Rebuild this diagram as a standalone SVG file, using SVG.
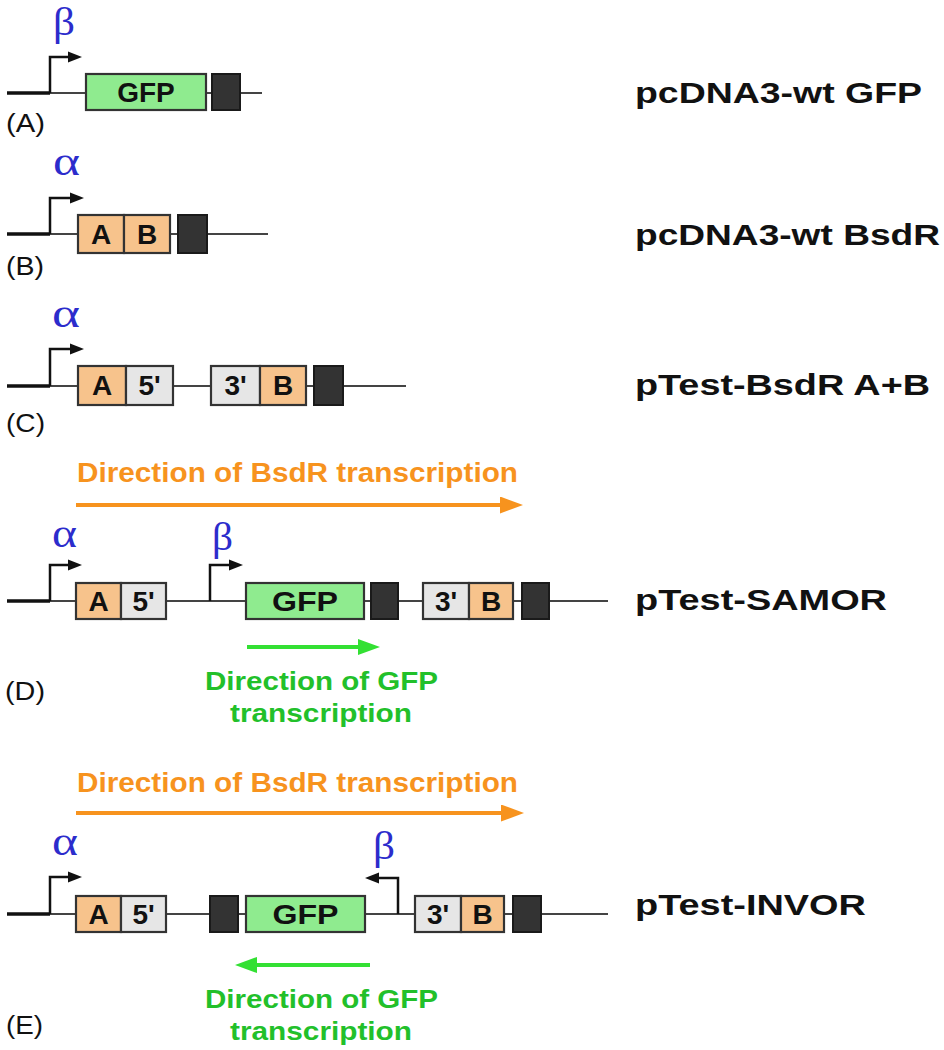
<svg xmlns="http://www.w3.org/2000/svg" width="944" height="1050" viewBox="0 0 944 1050">
<style>
.dna{stroke:#444;stroke-width:2;fill:none}
.lead{stroke:#111;stroke-width:3.5;fill:none}
.prom{stroke:#111;stroke-width:2.5;fill:none}
.box{stroke:#333;stroke-width:2.2}
.org{fill:#f7c38c}
.gry{fill:#e6e6e6}
.grn{fill:#8feb8f}
.drk{fill:#333;stroke:#1a1a1a;stroke-width:2}
.bt{font-family:"Liberation Sans",Arial,sans-serif;font-weight:bold;font-size:28px;fill:#111;text-anchor:middle}
.bs{font-family:"Liberation Sans",Arial,sans-serif;font-weight:bold;font-size:28px;fill:#111}
.lab{font-family:"Liberation Sans",Arial,sans-serif;font-weight:bold;font-size:30px;fill:#111}
.pl{font-family:"Liberation Sans",Arial,sans-serif;font-size:25px;fill:#111}
.gk{font-family:"Liberation Serif","DejaVu Serif",serif;fill:#2c2ccc}
.ot{font-family:"Liberation Sans",Arial,sans-serif;font-weight:bold;font-size:27px;fill:#f7931e}
.gt{font-family:"Liberation Sans",Arial,sans-serif;font-weight:bold;font-size:25px;fill:#22c02a}
.oa{stroke:#f7931e;stroke-width:4;fill:none}
.ga{stroke:#33e033;stroke-width:4;fill:none}
</style>
<defs>
<marker id="mh" markerUnits="userSpaceOnUse" markerWidth="14" markerHeight="12" refX="0" refY="6" orient="auto"><path d="M0,0.5 L14,6 L0,11.5 z" fill="#111"/></marker>
<marker id="mo" markerUnits="userSpaceOnUse" markerWidth="23" markerHeight="17" refX="0" refY="8.5" orient="auto"><path d="M0,0 L23,8.5 L0,17 z" fill="#f7931e"/></marker>
<marker id="mg" markerUnits="userSpaceOnUse" markerWidth="22" markerHeight="16" refX="0" refY="8" orient="auto"><path d="M0,0 L22,8 L0,16 z" fill="#33e033"/></marker>
</defs>
<rect width="944" height="1050" fill="#fff"/>

<g id="connectors">
<path class="dna" d="M50,93 H262"/>
<path class="lead" d="M7,93 H50"/>
<path class="dna" d="M50,234 H268"/>
<path class="lead" d="M7,234 H50"/>
<path class="dna" d="M50,386 H406"/>
<path class="lead" d="M7,386 H50"/>
<path class="dna" d="M50,601 H608"/>
<path class="lead" d="M7,601 H50"/>
<path class="dna" d="M50,914 H608"/>
<path class="lead" d="M7,914 H50"/>
<path class="prom" d="M50,93 V57 H68" marker-end="url(#mh)"/>
<path class="prom" d="M50,234 V198 H70" marker-end="url(#mh)"/>
<path class="prom" d="M50,386 V349 H70" marker-end="url(#mh)"/>
<path class="prom" d="M50,601 V565 H68" marker-end="url(#mh)"/>
<path class="prom" d="M210,601 V565 H229" marker-end="url(#mh)"/>
<path class="prom" d="M50,914 V877 H68" marker-end="url(#mh)"/>
<path class="prom" d="M398,914 V878 H379" marker-end="url(#mh)"/>
<path class="oa" d="M76,505 H500" marker-end="url(#mo)"/>
<path class="ga" d="M247,647 H358" marker-end="url(#mg)"/>
<path class="oa" d="M76,813 H501" marker-end="url(#mo)"/>
<path class="ga" d="M370,965 H257" marker-end="url(#mg)"/>
</g>

<g id="constructA">
<rect class="box grn" x="86" y="74" width="120" height="36"/>
<text class="bt" x="146" y="102">GFP</text>
<rect class="drk" x="212" y="74" width="28" height="36"/>
<text class="gk" x="53" y="35" font-size="39" textLength="22" lengthAdjust="spacingAndGlyphs">β</text>
<text class="pl" x="6" y="132" textLength="39" lengthAdjust="spacingAndGlyphs">(A)</text>
<text class="lab" x="635" y="103" textLength="287" lengthAdjust="spacingAndGlyphs">pcDNA3-wt GFP</text>
</g>

<g id="constructB">
<rect class="box org" x="78" y="215" width="46" height="38"/>
<rect class="box org" x="124" y="215" width="46" height="38"/>
<text class="bt" x="101" y="244">A</text>
<text class="bt" x="147" y="244">B</text>
<rect class="drk" x="178" y="215" width="29" height="38"/>
<text class="gk" x="53" y="175" font-size="41" textLength="27" lengthAdjust="spacingAndGlyphs">α</text>
<text class="pl" x="6" y="275" textLength="38" lengthAdjust="spacingAndGlyphs">(B)</text>
<text class="lab" x="635" y="245" textLength="305" lengthAdjust="spacingAndGlyphs">pcDNA3-wt BsdR</text>
</g>

<g id="constructC">
<rect class="box org" x="78" y="366" width="48" height="39"/>
<rect class="box gry" x="126" y="366" width="47" height="39"/>
<text class="bt" x="102" y="395">A</text>
<text class="bt" x="149.5" y="395">5'</text>
<rect class="box gry" x="211" y="366" width="49" height="39"/>
<rect class="box org" x="260" y="366" width="46" height="39"/>
<text class="bt" x="235.5" y="395">3'</text>
<text class="bt" x="283" y="395">B</text>
<rect class="drk" x="314" y="366" width="29" height="39"/>
<text class="gk" x="52" y="327" font-size="41" textLength="28" lengthAdjust="spacingAndGlyphs">α</text>
<text class="pl" x="6" y="432" textLength="39" lengthAdjust="spacingAndGlyphs">(C)</text>
<text class="lab" x="635" y="395" textLength="295" lengthAdjust="spacingAndGlyphs">pTest-BsdR A+B</text>
</g>

<g id="constructD">
<text class="ot" x="77" y="482" textLength="441" lengthAdjust="spacingAndGlyphs">Direction of BsdR transcription</text>
<rect class="box org" x="76" y="583" width="45" height="36"/>
<rect class="box gry" x="121" y="583" width="45" height="36"/>
<text class="bt" x="98.5" y="611">A</text>
<text class="bt" x="143.5" y="611">5'</text>
<rect class="box grn" x="246" y="583" width="118" height="36"/>
<text class="bs" x="272" y="611" textLength="66" lengthAdjust="spacingAndGlyphs">GFP</text>
<rect class="drk" x="371" y="583" width="27" height="36"/>
<rect class="box gry" x="423" y="583" width="46" height="36"/>
<rect class="box org" x="469" y="583" width="44" height="36"/>
<text class="bt" x="446" y="611">3'</text>
<text class="bt" x="491" y="611">B</text>
<rect class="drk" x="522" y="583" width="27" height="36"/>
<text class="gk" x="52" y="547" font-size="41" textLength="25" lengthAdjust="spacingAndGlyphs">α</text>
<text class="gk" x="212" y="550" font-size="39" textLength="21" lengthAdjust="spacingAndGlyphs">β</text>
<text class="gt" x="205" y="690" textLength="233" lengthAdjust="spacingAndGlyphs">Direction of GFP</text>
<text class="gt" x="230" y="722" textLength="182" lengthAdjust="spacingAndGlyphs">transcription</text>
<text class="pl" x="5" y="700" textLength="40" lengthAdjust="spacingAndGlyphs">(D)</text>
<text class="lab" x="635" y="610" textLength="252" lengthAdjust="spacingAndGlyphs">pTest-SAMOR</text>
</g>

<g id="constructE">
<text class="ot" x="77" y="792" textLength="441" lengthAdjust="spacingAndGlyphs">Direction of BsdR transcription</text>
<rect class="box org" x="76" y="896" width="45" height="36"/>
<rect class="box gry" x="121" y="896" width="45" height="36"/>
<text class="bt" x="98.5" y="924">A</text>
<text class="bt" x="143.5" y="924">5'</text>
<rect class="drk" x="210" y="896" width="28" height="36"/>
<rect class="box grn" x="246" y="896" width="119" height="36"/>
<text class="bs" x="272.5" y="924" textLength="66" lengthAdjust="spacingAndGlyphs">GFP</text>
<rect class="box gry" x="415" y="896" width="46" height="36"/>
<rect class="box org" x="461" y="896" width="43" height="36"/>
<text class="bt" x="438" y="924">3'</text>
<text class="bt" x="482.5" y="924">B</text>
<rect class="drk" x="513" y="896" width="28" height="36"/>
<text class="gk" x="52" y="855" font-size="41" textLength="26" lengthAdjust="spacingAndGlyphs">α</text>
<text class="gk" x="373" y="859" font-size="39" textLength="22" lengthAdjust="spacingAndGlyphs">β</text>
<text class="gt" x="205" y="1008" textLength="233" lengthAdjust="spacingAndGlyphs">Direction of GFP</text>
<text class="gt" x="230" y="1040" textLength="182" lengthAdjust="spacingAndGlyphs">transcription</text>
<text class="pl" x="6" y="1034" textLength="37" lengthAdjust="spacingAndGlyphs">(E)</text>
<text class="lab" x="635" y="915" textLength="231" lengthAdjust="spacingAndGlyphs">pTest-INVOR</text>
</g>
</svg>
